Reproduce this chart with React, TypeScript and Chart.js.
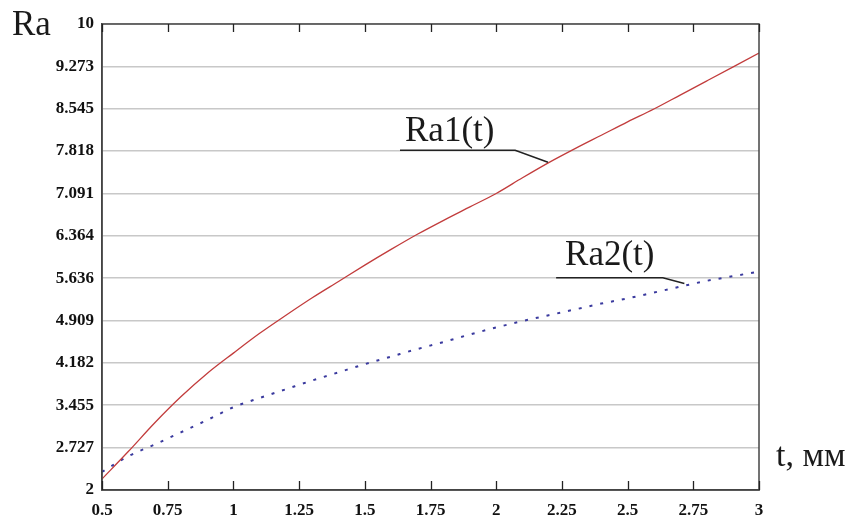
import React, { useEffect, useRef } from "react";
import { Chart, registerables } from "chart.js";

Chart.register(...registerables);

// ---- data ----
const tValues = [0.5, 0.6, 0.7, 0.8, 0.9, 1.0, 1.1, 1.2, 1.3, 1.4, 1.5, 1.6, 1.7, 1.8, 1.9, 2.0, 2.1, 2.2, 2.3, 2.4, 2.5, 2.6, 2.7, 2.8, 2.9, 3.0];
const ra1Values = [2.19, 2.66, 3.15, 3.6, 4.0, 4.35, 4.69, 5.0, 5.3, 5.58, 5.86, 6.13, 6.39, 6.63, 6.86, 7.09, 7.36, 7.62, 7.86, 8.09, 8.32, 8.54, 8.78, 9.02, 9.26, 9.5];
const ra2Values = [2.31, 2.58, 2.78, 2.99, 3.2, 3.42, 3.58, 3.73, 3.88, 4.02, 4.16, 4.29, 4.42, 4.54, 4.67, 4.79, 4.9, 5.0, 5.1, 5.2, 5.29, 5.39, 5.49, 5.59, 5.67, 5.75];

const xTickValues = [0.5, 0.75, 1, 1.25, 1.5, 1.75, 2, 2.25, 2.5, 2.75, 3];
const xTickLabels = ["0.5", "0.75", "1", "1.25", "1.5", "1.75", "2", "2.25", "2.5", "2.75", "3"];
const yTickValues = [2, 2.727, 3.455, 4.182, 4.909, 5.636, 6.364, 7.091, 7.818, 8.545, 9.273, 10];
const yTickLabels = ["2", "2.727", "3.455", "4.182", "4.909", "5.636", "6.364", "7.091", "7.818", "8.545", "9.273", "10"];

const seriesNames = ["Ra1(t)", "Ra2(t)"];
const yAxisTitle = "Ra";
const xAxisTitle = "t, мм";

// annotation anchors, in data units (t, Ra)
const ra1LabelAnchor = [1.653, 7.99];
const ra2LabelAnchor = [2.262, 5.87];
const ra1Leader = [[1.634, 7.833], [2.072, 7.833], [2.197, 7.626]];
const ra2Leader = [[2.228, 5.642], [2.634, 5.642], [2.716, 5.544]];

const SERIF = "'Liberation Serif', 'Times New Roman', serif";

const decorPlugin = {
  id: "decor",
  afterDraw(chart: any) {
    const { ctx, chartArea, scales } = chart;
    const xs = scales.x;
    const ys = scales.y;
    ctx.save();
    // frame
    ctx.strokeStyle = "#444";
    ctx.lineWidth = 1.5;
    ctx.strokeRect(chartArea.left, chartArea.top, chartArea.right - chartArea.left, chartArea.bottom - chartArea.top);
    // inward tick marks bottom & top
    ctx.lineWidth = 1.3;
    ctx.strokeStyle = "#222";
    xTickValues.forEach((v) => {
      const px = Math.round(xs.getPixelForValue(v)) + 0.5;
      ctx.beginPath();
      ctx.moveTo(px, chartArea.bottom);
      ctx.lineTo(px, chartArea.bottom - 9);
      ctx.moveTo(px, chartArea.top);
      ctx.lineTo(px, chartArea.top + 8);
      ctx.stroke();
    });
    // leader lines
    ctx.strokeStyle = "#222";
    ctx.lineWidth = 1.5;
    [ra1Leader, ra2Leader].forEach((pts) => {
      ctx.beginPath();
      pts.forEach((p, i) => {
        const px = xs.getPixelForValue(p[0]);
        const py = ys.getPixelForValue(p[1]);
        if (i === 0) ctx.moveTo(px, py);
        else ctx.lineTo(px, py);
      });
      ctx.stroke();
    });
    // curve labels
    ctx.fillStyle = "#1a1a1a";
    ctx.font = `35px ${SERIF}`;
    ctx.textAlign = "left";
    ctx.textBaseline = "alphabetic";
    ctx.fillText(seriesNames[0], xs.getPixelForValue(ra1LabelAnchor[0]), ys.getPixelForValue(ra1LabelAnchor[1]));
    ctx.fillText(seriesNames[1], xs.getPixelForValue(ra2LabelAnchor[0]), ys.getPixelForValue(ra2LabelAnchor[1]));
    // axis titles
    ctx.font = `35px ${SERIF}`;
    ctx.fillText(yAxisTitle, 12, 35);
    ctx.font = `34px ${SERIF}`;
    ctx.fillText(xAxisTitle, 776, 466);
    ctx.restore();
  },
};

export default function App() {
  const canvasRef = useRef<HTMLCanvasElement | null>(null);

  useEffect(() => {
    if (!canvasRef.current) return;
    const tickFont = { family: SERIF, weight: "bold" as const, size: 17 };
    const chart = new Chart(canvasRef.current, {
      type: "line",
      data: {
        datasets: [
          {
            label: seriesNames[0],
            data: tValues.map((t, i) => ({ x: t, y: ra1Values[i] })),
            borderColor: "#c23c3c",
            borderWidth: 1.3,
            pointRadius: 0,
            cubicInterpolationMode: "monotone",
            fill: false,
          },
          {
            label: seriesNames[1],
            data: tValues.map((t, i) => ({ x: t, y: ra2Values[i] })),
            borderColor: "#3a3a9e",
            borderWidth: 2,
            borderDash: [3, 8],
            pointRadius: 0,
            cubicInterpolationMode: "monotone",
            fill: false,
          },
        ],
      },
      options: {
        animation: false,
        responsive: false,
        maintainAspectRatio: false,
        layout: { padding: { top: 24, right: 92, left: 0, bottom: 0 } },
        plugins: { legend: { display: false }, tooltip: { enabled: false } },
        scales: {
          x: {
            type: "linear",
            min: 0.5,
            max: 3,
            afterBuildTicks: (s: any) => {
              s.ticks = xTickValues.map((v) => ({ value: v }));
            },
            afterFit: (s: any) => {
              s.height = 25;
            },
            ticks: {
              callback: (_v: any, i: number) => xTickLabels[i],
              font: tickFont,
              color: "#111",
              maxRotation: 0,
              autoSkip: false,
              padding: 10,
            },
            grid: { display: false, drawTicks: false },
            border: { display: true, color: "#444", width: 1.5 },
          },
          y: {
            type: "linear",
            min: 2,
            max: 10,
            afterBuildTicks: (s: any) => {
              s.ticks = yTickValues.map((v) => ({ value: v }));
            },
            afterFit: (s: any) => {
              s.width = 102;
            },
            ticks: {
              callback: (_v: any, i: number) => yTickLabels[i],
              font: tickFont,
              color: "#111",
              autoSkip: false,
              padding: 8,
            },
            grid: { color: "#c8c8c8", lineWidth: 1.5, drawTicks: false },
            border: { display: true, color: "#444", width: 1.5 },
          },
        },
      },
      plugins: [decorPlugin],
    });
    return () => chart.destroy();
  }, []);

  return (
    <div style={{ position: "absolute", left: 0, top: 0, width: 851, height: 515, background: "#fff" }}>
      <canvas ref={canvasRef} width={851} height={515} style={{ display: "block", width: 851, height: 515 }} />
    </div>
  );
}
